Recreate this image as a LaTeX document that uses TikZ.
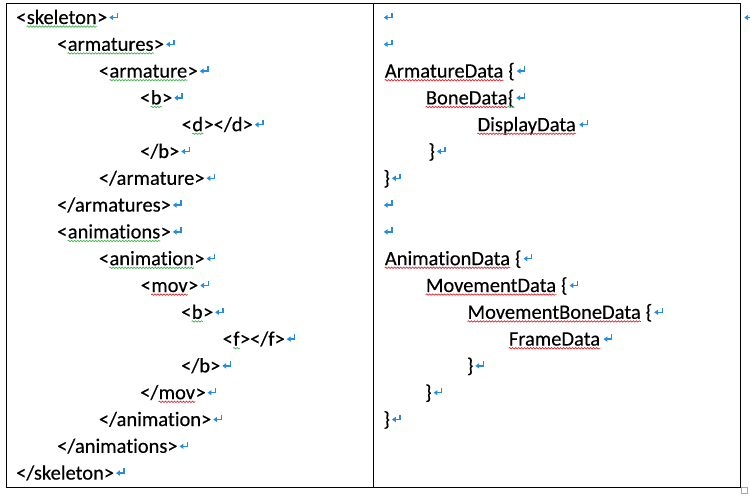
\documentclass[tikz,border=0pt]{standalone}
\usepackage{fontspec}
\setmainfont{Carlito}[Ligatures = NoCommon, FakeBold = 0.3]
\usepackage{tikz}
\usetikzlibrary{decorations.pathmorphing}
\usetikzlibrary{positioning}
\definecolor{retblue}{RGB}{40,140,220}
\definecolor{wavegreen}{RGB}{70,180,80}
\definecolor{wavered}{RGB}{225,40,50}
\definecolor{handleblue}{RGB}{140,170,225}
\tikzset{txt/.style = {anchor = base west, inner sep = 0, font = \fontsize{20.5}{24}\selectfont}}
\tikzset{wavy/.style = {decorate, decoration = {snake, segment length = 3, amplitude = 0.7}, line width = 0.7}}
\tikzset{retmark/.pic = {
    \draw [retblue, line width = 1.4] (7.8, -11.2) -- (7.8, -6.5) -- (3, -6.5);
    \fill [retblue] (-0.2, -6.5) -- (3.6, -9.2) -- (3.6, -3.8) -- cycle;
  }}
\newcommand{\tagrow}[7]{%
  \node [txt] (#1pre) at (#2, #3) {#4};
  \node [txt] (#1) at (#1pre.base east) {#5};
  \node [txt] (#1post) at (#1.base east) {#6};
  \draw [wavy, #7] ([yshift = -2.6pt] #1.base west) -- ([yshift = -2.6pt] #1.base east);
  \pic at ([xshift = 2pt] #1post.base east) {retmark};
}
\newcommand{\plainrow}[4]{%
  \node [txt] (#1) at (#2, #3) {#4};
  \pic at ([xshift = 2pt] #1.base east) {retmark};
}

\begin{document}
\begin{tikzpicture}[x = 1pt, y = -1pt]
    \useasboundingbox (0, 0) rectangle (750, 496);
    \draw [line width = 1] (6, 3.5) rectangle (740.5, 487);
    \draw [line width = 1] (373, 3.5) -- (373, 487);
    \draw [handleblue, line width = 0.8] (741.5, 487.5) rectangle (747, 493);
    \pic at (744.5, 24) {retmark};

    \tagrow{skel}{16}{24}{<}{skeleton}{>}{wavegreen}
    \tagrow{arms}{57}{50.8}{<}{armatures}{>}{wavegreen}
    \tagrow{arm}{98.7}{77.6}{<}{armature}{>}{wavegreen}
    \tagrow{bone}{140}{104.4}{<}{b}{>}{wavegreen}
    \tagrow{disp}{181.5}{131.2}{<}{d}{></d>}{wavegreen}
    \plainrow{boneend}{140}{158}{</b>}
    \plainrow{armend}{98.7}{184.8}{</armature>}
    \plainrow{armsend}{57}{211.6}{</armatures>}
    \tagrow{anis}{57}{238.4}{<}{animations}{>}{wavegreen}
    \tagrow{ani}{98.7}{265.2}{<}{animation}{>}{wavegreen}
    \tagrow{mov}{140.5}{292}{<}{mov}{>}{wavered}
    \tagrow{movbone}{181}{318.8}{<}{b}{>}{wavegreen}
    \tagrow{frame}{222.5}{345.6}{<}{f}{></f>}{wavegreen}
    \plainrow{movboneend}{181}{372.4}{</b>}
    \tagrow{movend}{140}{399.2}{</}{mov}{>}{wavered}
    \plainrow{aniend}{98.7}{426}{</animation>}
    \plainrow{anisend}{57}{452.8}{</animations>}
    \plainrow{skelend}{16}{479.6}{</skeleton>}

    \pic at (384, 24) {retmark};
    \pic at (384, 50.8) {retmark};
    \tagrow{armdata}{383.3}{77.6}{}{ArmatureData}{\ \{}{wavered}
    \tagrow{bonedata}{424.3}{104.4}{}{BoneData}{\{}{wavered}
    \draw [wavy, wavegreen] ([yshift = -2.6pt] bonedatapost.base west) -- ([yshift = -2.6pt] bonedatapost.base east);
    \tagrow{dispdata}{476}{131.2}{}{DisplayData}{}{wavered}
    \plainrow{bonedataend}{428.3}{158}{\}}
    \plainrow{armdataend}{383.3}{184.8}{\}}
    \pic at (384, 211.6) {retmark};
    \pic at (384, 238.4) {retmark};
    \tagrow{anidata}{383.3}{265.2}{}{AnimationData}{\ \{}{wavered}
    \tagrow{movdata}{424.3}{292}{}{MovementData}{\ \{}{wavered}
    \tagrow{movbonedata}{466}{318.8}{}{MovementBoneData}{\ \{}{wavered}
    \tagrow{framedata}{507.3}{345.6}{}{FrameData}{}{wavered}
    \plainrow{movbonedataend}{466.7}{372.4}{\}}
    \plainrow{movdataend}{425}{399.2}{\}}
    \plainrow{anidataend}{383.3}{426}{\}}
  \end{tikzpicture}
\end{document}
